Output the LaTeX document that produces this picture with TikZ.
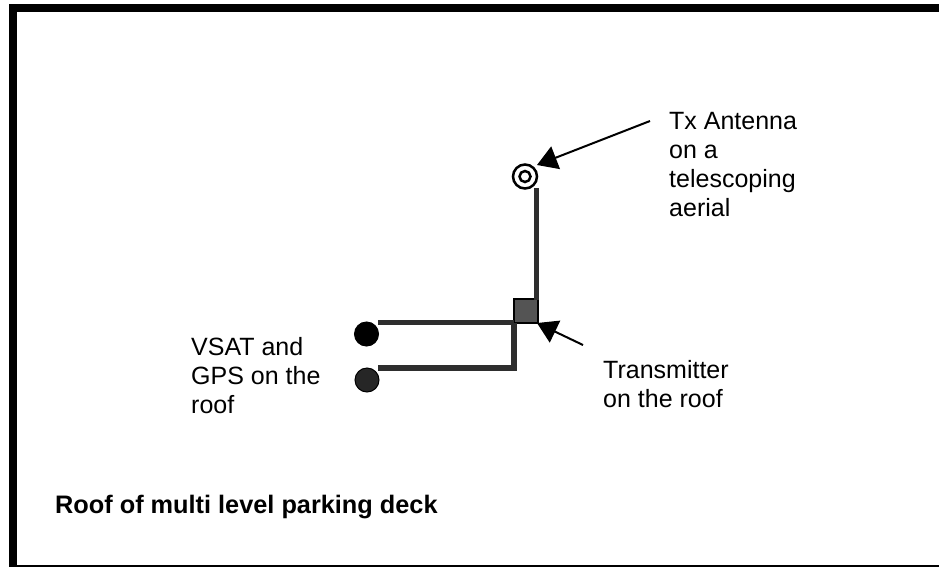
\documentclass[tikz,border=0pt]{standalone}
\usepackage{fontspec}
\setmainfont{Liberation Sans}
\usetikzlibrary{arrows.meta}
\definecolor{wire}{gray}{0.18}
\definecolor{mottle}{gray}{0.33}
\tikzset{
  x=1pt,y=-1pt,
  lbl/.style={inner sep=0pt,align=left,anchor=north west,font=\fontsize{25}{29}\selectfont},
  wireline/.style={draw=wire,line width=5.5pt},
  leader/.style={draw=black,line width=2pt,-{Triangle[length=20pt,width=24pt]}},
  device/.style={circle,draw=black,line width=1pt,minimum size=24pt,inner sep=0pt},
}
\begin{document}
\begin{tikzpicture}
\useasboundingbox (0,0) rectangle (939,568);
\fill[white] (0,0) rectangle (939,568);
\fill[black] (9,4) rectangle (939,12);
\fill[black] (9,4) rectangle (17,566);
\fill[black] (9,565) rectangle (939,566.5);
\node[circle,draw=black,line width=2.5pt,minimum size=24pt,inner sep=0pt] (ant) at (525,176.5) {};
\node[circle,draw=black,line width=2.5pt,minimum size=11pt,inner sep=0pt] at (525,176.5) {};
\node[draw=black,fill=mottle,line width=2pt,minimum size=24pt,inner sep=0pt] (tx) at (525.5,311) {};
\node[device,fill=black] (vsat) at (366.5,334) {};
\node[device,fill=black!85] (gps) at (367,380) {};
\coordinate (antl) at (536.5,188);
\coordinate (txt) at (536.5,300);
\coordinate (vs) at (378,322.5);
\coordinate (vm) at (514,322.5);
\coordinate (gs) at (378,368);
\coordinate (gm) at (514,368);
\path[wireline] (antl) -- (txt);
\path[wireline] (vs) -- (vm);
\path[wireline] (vm) -- (gm) -- (gs);
\node[lbl] (a) at (669,112) {Tx Antenna\\on a\\telescoping\\aerial};
\node[lbl] (t) at (603,360) {Transmitter\\on the roof};
\node[lbl] (v) at (191,337) {VSAT and\\GPS on the\\roof};
\node[lbl,font=\bfseries\fontsize{25.3}{29}\selectfont] (r) at (55,495) {Roof of multi level parking deck};
\coordinate (aa) at (650,121);
\coordinate (ta) at (583,345);
\draw[leader] (aa) -- (537,165);
\draw[leader] (ta) -- (537,323);
\end{tikzpicture}
\end{document}
